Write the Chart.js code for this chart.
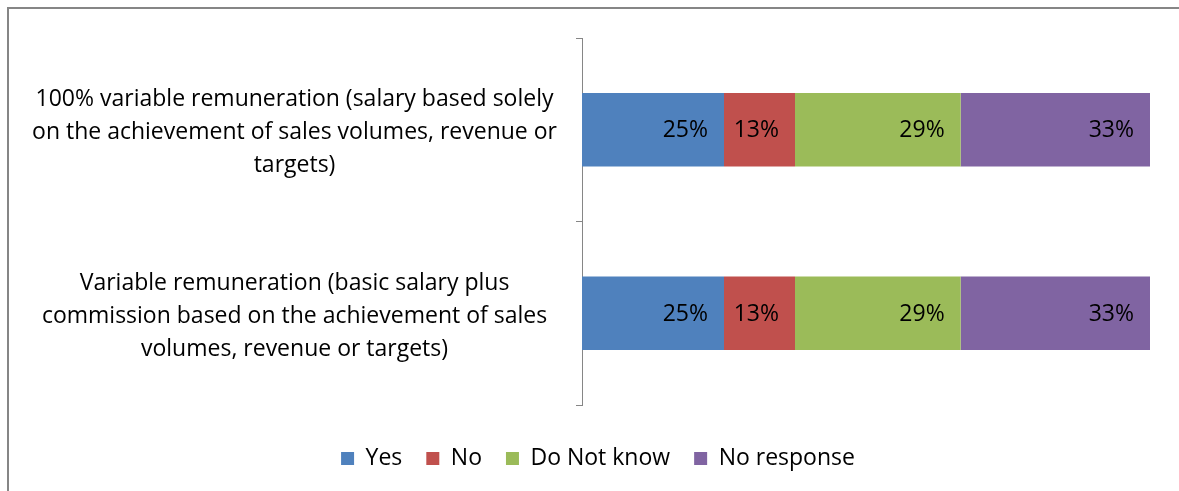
<!DOCTYPE html>
<html>
<head>
<meta charset="utf-8">
<script src="https://cdn.jsdelivr.net/npm/chart.js@4.4.1/dist/chart.umd.min.js"></script>
<style>
  html, body { margin: 0; padding: 0; background: #fff; }
  #wrap { position: relative; width: 1179px; height: 491px; }
  #frame { position: absolute; left: 7px; top: 7px; right: 0; bottom: 0;
           border-top: 2px solid #868686; border-left: 2px solid #868686; }
  canvas { position: absolute; left: 0; top: 0; }
</style>
</head>
<body>
<div id="wrap">
  <div id="frame"></div>
  <canvas id="chart" width="1179" height="491"></canvas>
</div>
<script>
// categories (one per bar), each split into lines
var categories = [
  ['100% variable remuneration (salary based solely', 'on the achievement of sales volumes, revenue or', 'targets)'],
  ['Variable remuneration (basic salary plus', 'commission based on the achievement of sales', 'volumes, revenue or targets)']
];
var seriesNames = ['Yes', 'No', 'Do Not know', 'No response'];
var seriesColors = ['#4F81BD', '#C0504D', '#9BBB59', '#8064A2'];
// shares of answers (6, 3, 7 and 8 out of 24)
var yesValues = [0.25, 0.25];
var noValues = [0.125, 0.125];
var dontKnowValues = [0.2917, 0.2917];
var noResponseValues = [0.3333, 0.3333];

var fontFamily = '"Open Sans", "Liberation Sans", sans-serif';

// percentages written inside the end of each bar segment
var insideEndLabels = {
        id: 'insideEndLabels',
        afterDatasetsDraw: function(chart) {
                var ctx = chart.ctx;
                ctx.save();
                ctx.font = '23px ' + fontFamily;
                ctx.fillStyle = '#000';
                ctx.textAlign = 'right';
                ctx.textBaseline = 'middle';
                chart.data.datasets.forEach(function(ds, i) {
                        chart.getDatasetMeta(i).data.forEach(function(bar, j) {
                                var txt = Math.round(ds.data[j] * 100) + '%';
                                ctx.fillText(txt, bar.x - 16, bar.y + 1);
                        });
                });
                ctx.restore();
        }
};

// legend sits centred on the whole frame, a bit right of the canvas middle
var legendShift = {
        id: 'legendShift',
        afterLayout: function(chart) {
                chart.legend.left += 19;
                chart.legend.right += 19;
        }
};

var ctx = document.getElementById('chart').getContext('2d');
var myChart = new Chart(ctx, {
        type: 'bar',
        data: {
                labels: categories,
                datasets: [
                        { label: seriesNames[0], data: yesValues, backgroundColor: seriesColors[0] },
                        { label: seriesNames[1], data: noValues, backgroundColor: seriesColors[1] },
                        { label: seriesNames[2], data: dontKnowValues, backgroundColor: seriesColors[2] },
                        { label: seriesNames[3], data: noResponseValues, backgroundColor: seriesColors[3] }
                ]
        },
        options: {
                indexAxis: 'y',
                responsive: false,
                animation: false,
                events: [],
                layout: { padding: { top: 38, right: 29, left: 8, bottom: 11 } },
                datasets: { bar: { barPercentage: 0.4, categoryPercentage: 1, borderWidth: 0 } },
                scales: {
                        x: {
                                stacked: true, min: 0, max: 1,
                                ticks: { display: false },
                                grid: { display: false },
                                border: { display: false },
                                afterFit: function(s) { s.height = 18; }
                        },
                        y: {
                                stacked: true,
                                grid: { offset: true, drawOnChartArea: false, tickLength: 6, color: '#868686' },
                                border: { color: '#868686', width: 1 },
                                ticks: {
                                        crossAlign: 'center', padding: 19, labelOffset: 3, color: '#000',
                                        font: { family: fontFamily, size: 23, lineHeight: '33px' }
                                },
                                afterFit: function(s) {
                                        s.width = 574;
                                        s.paddingTop = 0;
                                        s.paddingBottom = 0;
                                }
                        }
                },
                plugins: {
                        tooltip: { enabled: false },
                        legend: {
                                position: 'bottom',
                                labels: {
                                        boxWidth: 13, boxHeight: 13, padding: 24, color: '#000',
                                        font: { family: fontFamily, size: 23 }
                                }
                        }
                }
        },
        plugins: [insideEndLabels, legendShift]
});
</script>
</body>
</html>
